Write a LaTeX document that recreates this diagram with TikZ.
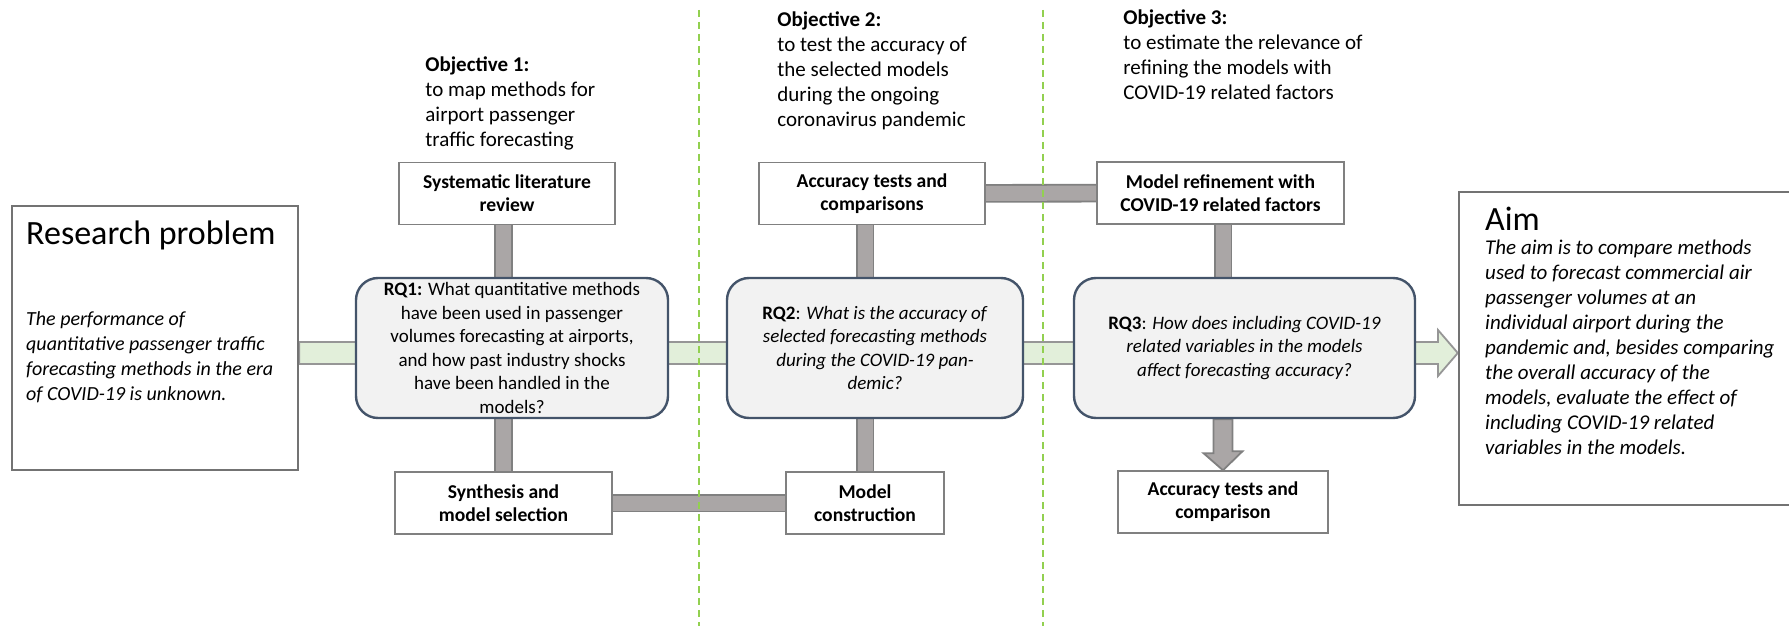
\documentclass[tikz,border=0pt]{standalone}
\usepackage{fontspec}
\setmainfont{Carlito}
\usetikzlibrary{arrows,positioning,calc}
\definecolor{rqline}{RGB}{68,84,106}
\definecolor{rqfill}{RGB}{242,242,242}
\definecolor{boxline}{RGB}{128,128,128}
\definecolor{barfill}{RGB}{170,166,166}
\definecolor{barline}{RGB}{128,128,128}
\definecolor{bandfill}{RGB}{226,239,218}
\definecolor{bandline}{RGB}{150,150,150}
\definecolor{splitgreen}{RGB}{146,208,80}
\pgfdeclarelayer{background}
\pgfsetlayers{background,main}
\tikzstyle{taskbox} = [rectangle, draw=boxline, line width=0.75pt, fill=white, minimum height=31pt, inner sep=0pt, align=center, font=\fontsize{9.8}{11.4}\selectfont\bfseries]
\tikzstyle{rqbox} = [rectangle, rounded corners=11pt, draw=rqline, line width=1.2pt, fill=rqfill, minimum height=70pt, inner sep=0pt, align=center, font=\fontsize{9.5}{11.75}\selectfont]
\tikzstyle{bigbox} = [rectangle, draw=boxline!90!black, line width=1.2pt, fill=white, inner sep=0pt]
\tikzstyle{objtext} = [anchor=north west, inner sep=0pt, align=left, font=\fontsize{10.5}{12.5}\selectfont]
\tikzstyle{bodytext} = [inner sep=0pt, align=left, font=\fontsize{10}{12.5}\selectfont\itshape]
\tikzstyle{graybar} = [draw=barline, line width=0.9pt, double=barfill, double distance=7.5pt]
\tikzstyle{grayarrow} = [draw=barline, line width=0.9pt, fill=barfill, line join=miter]
\tikzstyle{greenband} = [draw=bandline, line width=0.9pt, fill=bandfill]
\tikzstyle{splitline} = [splitgreen, line width=1pt, dash pattern=on 3.5pt off 2.5pt]

\begin{document}
\begin{tikzpicture}[x=0.5pt, y=-0.5pt]
\useasboundingbox (0,0) rectangle (1789,626);

% problem and aim
\node[bigbox, minimum width=143pt, minimum height=132pt] (prob) at (155,338) {};
\node[inner sep=0pt, font=\fontsize{17}{20}\selectfont, below right=8pt and 7.5pt of prob.north west] (probtitle) {Research problem};
\node[bodytext, below right=53pt and 7.5pt of prob.north west] (probtext) {The performance of\\quantitative passenger traffic\\forecasting methods in the era\\of COVID-19 is unknown.};
\node[bigbox, minimum width=170pt, minimum height=156.5pt] (aim) at (1629,348.5) {};
\node[inner sep=0pt, font=\fontsize{17}{20}\selectfont, below right=8pt and 13.5pt of aim.north west] (aimtitle) {Aim};
\node[bodytext, font=\fontsize{10.5}{12.5}\selectfont\itshape, below right=24.5pt and 13.5pt of aim.north west] (aimtext) {The aim is to compare methods\\used to forecast commercial air\\passenger volumes at an\\individual airport during the\\pandemic and, besides comparing\\the overall accuracy of the\\models, evaluate the effect of\\including COVID-19 related\\variables in the models.};

% objectives
\node[objtext] (obj1) at (425,56) {\textbf{Objective 1:}\\to map methods for\\airport passenger\\traffic forecasting};
\node[objtext] (obj2) at (777,11) {\textbf{Objective 2:}\\to test the accuracy of\\the selected models\\during the ongoing\\coronavirus pandemic};
\node[objtext] (obj3) at (1123,9) {\textbf{Objective 3:}\\to estimate the relevance of\\refining the models with\\COVID-19 related factors};

% tasks above
\node[taskbox, minimum width=108pt] (slr) at (507,193.5) {Systematic literature\\review};
\node[taskbox, minimum width=113pt] (acc1) at (872,193.5) {Accuracy tests and\\comparisons};
\node[taskbox, minimum width=123.5pt] (refine) at (1220.5,193) {Model refinement with\\COVID-19 related factors};

% research questions
\node[rqbox, minimum width=156pt] (rq1) at (512,348) {\textbf{RQ1:} What quantitative methods\\have been used in passenger\\volumes forecasting at airports,\\and how past industry shocks\\have been handled in the\\models?};
\node[rqbox, minimum width=148pt] (rq2) at (875,348) {\textbf{RQ2}: \textit{What is the accuracy of}\\\textit{selected forecasting methods}\\\textit{during the COVID-19 pan-}\\\textit{demic?}};
\node[rqbox, minimum width=170.5pt] (rq3) at (1244.5,348) {\textbf{RQ3}: \textit{How does including COVID-19}\\\textit{related variables in the models}\\\textit{affect forecasting accuracy?}};

% tasks below
\node[taskbox, minimum width=108.5pt] (synth) at (503.5,503) {Synthesis and\\model selection};
\node[taskbox, minimum width=79pt] (constr) at (865,503) {Model\\construction};
\node[taskbox, minimum width=105pt] (acc2) at (1223,502) {Accuracy tests and\\comparison};

\begin{pgfonlayer}{background}
% green band to the aim
\coordinate (hb) at (1438,353);
\draw[greenband] ($(prob.east |- hb)+(0,-11)$) -- ($(hb)+(0,-11)$) -- ($(hb)+(0,-23)$) -- (aim.west |- hb) -- ($(hb)+(0,23)$) -- ($(hb)+(0,11)$) -- ($(prob.east |- hb)+(0,11)$) -- cycle;
% gray bars
\draw[graybar] (slr.south -| synth) -- (rq1.north -| synth);
\draw[graybar] (rq1.south -| synth) -- (synth.north);
\draw[graybar] (acc1.south -| constr) -- (rq2.north -| constr);
\draw[graybar] (rq2.south -| constr) -- (constr.north);
\draw[graybar] (refine.south -| acc2) -- (rq3.north -| acc2);
\draw[graybar] (synth) -- (constr);
\draw[graybar] (acc1) -- (refine);
\draw[grayarrow] ($(rq3.south -| acc2)+(-9.5,0)$) -- ++(0,34) -- ++(-10,0) -- (acc2.north) -- ++(19.5,-19) -- ++(-10,0) -- ($(rq3.south -| acc2)+(9.5,0)$) -- cycle;
% objective borders
\draw[splitline] (699,10) -- (699,626);
\draw[splitline] (1043,10) -- (1043,626);
\end{pgfonlayer}
\end{tikzpicture}
\end{document}
